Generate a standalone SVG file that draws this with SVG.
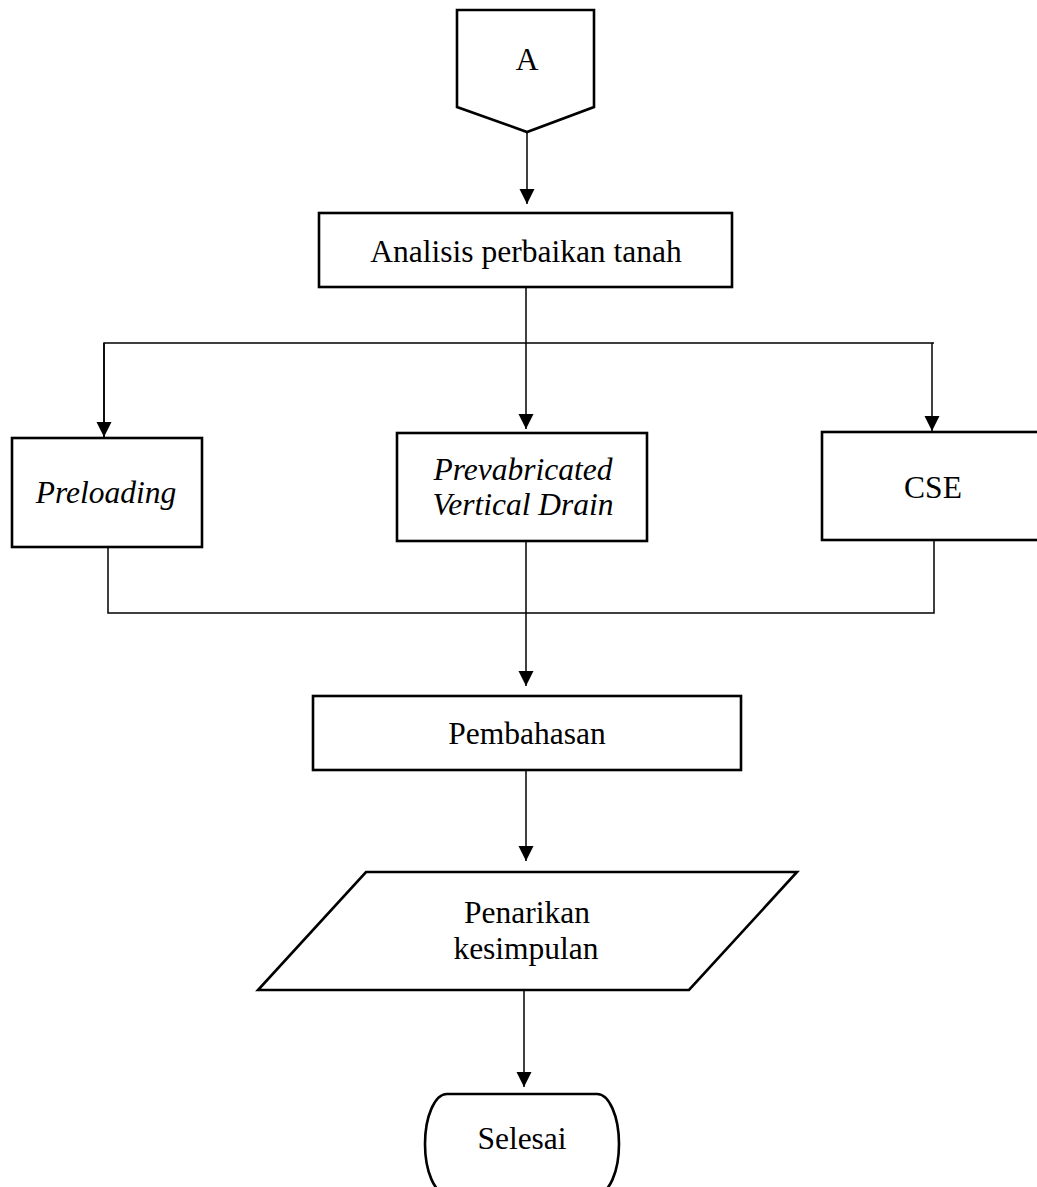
<svg xmlns="http://www.w3.org/2000/svg" width="1037" height="1187" viewBox="0 0 1037 1187">
<style>
.shape{fill:#fff;stroke:#000;stroke-width:2.6}
.lbl{font-family:"Liberation Serif","Times New Roman",serif;font-size:31.5px;fill:#000;text-anchor:middle}
.it{font-style:italic}
.conn{fill:none;stroke:#000;stroke-width:1.5}
</style>
<defs>
<marker id="ah" markerUnits="userSpaceOnUse" markerWidth="16" markerHeight="16" viewBox="0 0 16 16" refX="15" refY="8" orient="auto">
<path d="M0,0.5 L15,8 L0,15.5 Z" fill="#000"/>
</marker>
</defs>
<rect width="1037" height="1187" fill="#fff"/>
<g id="connectors">
<line class="conn" x1="527" y1="132" x2="527" y2="204" marker-end="url(#ah)"/>
<line class="conn" x1="526" y1="287" x2="526" y2="429" marker-end="url(#ah)"/>
<polyline class="conn" points="104,437 104,343 934,343 932,343"/>
<line class="conn" x1="104" y1="343" x2="104" y2="437" marker-end="url(#ah)"/>
<line class="conn" x1="932" y1="343" x2="932" y2="431" marker-end="url(#ah)"/>
<polyline class="conn" points="108,547 108,613 934,613 934,540"/>
<line class="conn" x1="526" y1="541" x2="526" y2="686" marker-end="url(#ah)"/>
<line class="conn" x1="526" y1="770" x2="526" y2="861" marker-end="url(#ah)"/>
<line class="conn" x1="524" y1="990" x2="524" y2="1087" marker-end="url(#ah)"/>
</g>
<g id="node-a">
<path class="shape" d="M457,10 H594 V107 L527,132 L457,107 Z"/>
<text class="lbl" x="527" y="70">A</text>
</g>
<g id="node-analisis">
<rect class="shape" x="319" y="213" width="413" height="74"/>
<text class="lbl" x="526" y="262">Analisis perbaikan tanah</text>
</g>
<g id="node-preloading">
<rect class="shape" x="12" y="438" width="190" height="109"/>
<text class="lbl it" x="106" y="503">Preloading</text>
</g>
<g id="node-pvd">
<rect class="shape" x="397" y="433" width="250" height="108"/>
<text class="lbl it" x="523" y="480">Prevabricated</text>
<text class="lbl it" x="523" y="515">Vertical Drain</text>
</g>
<g id="node-cse">
<rect class="shape" x="822" y="432" width="224" height="108"/>
<text class="lbl" x="933" y="498">CSE</text>
</g>
<g id="node-pembahasan">
<rect class="shape" x="313" y="696" width="428" height="74"/>
<text class="lbl" x="527" y="744">Pembahasan</text>
</g>
<g id="node-kesimpulan">
<path class="shape" d="M366,872 H797 L689,990 H258 Z"/>
<text class="lbl" x="527" y="923">Penarikan</text>
<text class="lbl" x="526" y="959">kesimpulan</text>
</g>
<g id="node-selesai">
<path class="shape" d="M447,1094 H597 A22,50 0 0 1 597,1194 H447 A22,50 0 0 1 447,1094 Z"/>
<text class="lbl" x="522" y="1149">Selesai</text>
</g>
</svg>
